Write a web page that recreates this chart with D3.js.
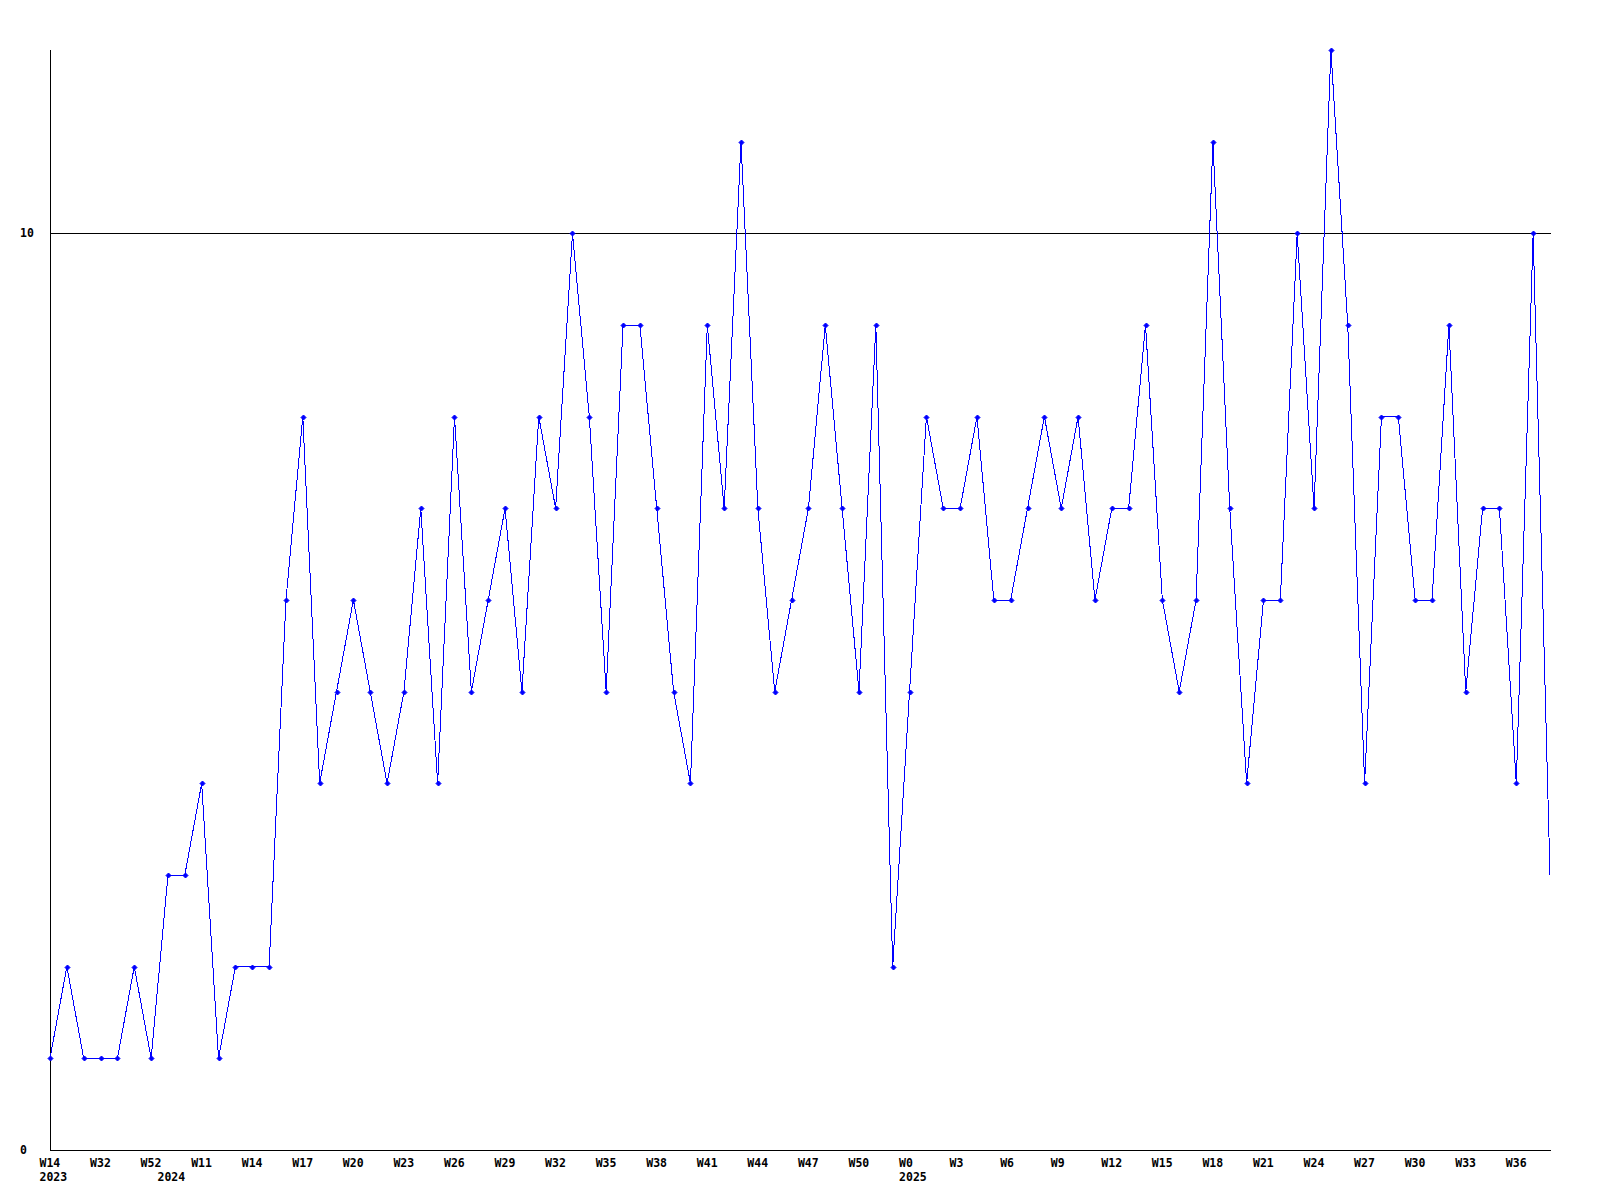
<!DOCTYPE html>
<html>
<head>
<meta charset="utf-8">
<script src="https://cdn.jsdelivr.net/npm/d3@7"></script>
<style>
  html, body { margin: 0; padding: 0; background: #fff; }
  svg { display: block; }
  text { font-family: "DejaVu Sans Mono", "Liberation Mono", monospace; font-weight: bold; font-size: 11.5px; fill: #000; }
</style>
</head>
<body>
<svg id="chart" width="1600" height="1200"></svg>
<script>
// ---- data ----
const values = [1,2,1,1,1,2,1,3,3,4,1,2,2,2,6,8,4,5,6,5,4,5,7,4,8,5,6,7,5,8,7,10,8,5,9,9,7,5,4,9,7,11,7,5,6,7,9,7,5,9,2,5,8,7,7,8,6,6,7,8,7,8,6,7,7,9,6,5,6,11,7,4,6,6,10,7,12,9,4,8,8,6,6,9,5,7,7,4,10,3];
const weekTickIndex = [0,3,6,9,12,15,18,21,24,27,30,33,36,39,42,45,48,51,54,57,60,63,66,69,72,75,78,81,84,87];
const weekTickLabels = ["W14","W32","W52","W11","W14","W17","W20","W23","W26","W29","W32","W35","W38","W41","W44","W47","W50","W0","W3","W6","W9","W12","W15","W18","W21","W24","W27","W30","W33","W36"];
const yearIndex = [0,7,51];
const yearLabels = ["2023","2024","2025"];
const yTicks = [0,10];
const refLine = 10;
const yMax = 12;

// ---- layout ----
const svg = d3.select("#chart");
const x = d3.scaleLinear().domain([0, values.length - 1]).range([50, 1550]);
const y = d3.scaleLinear().domain([0, yMax]).range([1150, 50]);

// axes lines
svg.append("line").attr("x1", 50.5).attr("x2", 50.5).attr("y1", y(yMax)).attr("y2", y(0) + 0.5)
  .attr("stroke", "#000").attr("stroke-width", 1).attr("shape-rendering", "crispEdges");
svg.append("line").attr("x1", 50).attr("x2", 1551).attr("y1", y(0) + 0.5).attr("y2", y(0) + 0.5)
  .attr("stroke", "#000").attr("stroke-width", 1).attr("shape-rendering", "crispEdges");
// reference line
svg.append("line").attr("x1", 50).attr("x2", 1551).attr("y1", Math.round(y(refLine)) + 0.5).attr("y2", Math.round(y(refLine)) + 0.5)
  .attr("stroke", "#000").attr("stroke-width", 1).attr("shape-rendering", "crispEdges");

// y labels
svg.selectAll("text.ylab").data(yTicks).join("text")
  .attr("class", "ylab")
  .attr("x", 20)
  .attr("y", d => y(d))
  .attr("dy", "0.35em")
  .attr("text-anchor", "start")
  .text(d => d);

// x labels (left-aligned just before each tick position)
svg.selectAll("text.xlab").data(weekTickIndex).join("text")
  .attr("class", "xlab")
  .attr("x", d => x(d) - 10.5)
  .attr("y", 1167)
  .attr("text-anchor", "start")
  .text((d, i) => weekTickLabels[i]);

svg.selectAll("text.year").data(yearIndex).join("text")
  .attr("class", "year")
  .attr("x", d => x(d) - 10.5)
  .attr("y", 1181)
  .attr("text-anchor", "start")
  .text((d, i) => yearLabels[i]);

// line
const line = d3.line().x((d, i) => x(i)).y(d => y(d));
svg.append("path").datum(values)
  .attr("d", line)
  .attr("fill", "none")
  .attr("stroke", "#0000ff")
  .attr("stroke-width", 1)
  .attr("shape-rendering", "crispEdges");

// markers (last, partial point has none)
const r = 2.5;
svg.selectAll("path.mk").data(values.slice(0, values.length - 1)).join("path")
  .attr("class", "mk")
  .attr("d", (d, i) => {
    const cx = Math.round(x(i)) + 0.5, cy = Math.round(y(d)) + 0.5;
    return `M${cx - r},${cy}L${cx},${cy - r}L${cx + r},${cy}L${cx},${cy + r}Z`;
  })
  .attr("fill", "#0000ff")
  .attr("stroke", "#0000ff")
  .attr("stroke-width", 1);
</script>
</body>
</html>
